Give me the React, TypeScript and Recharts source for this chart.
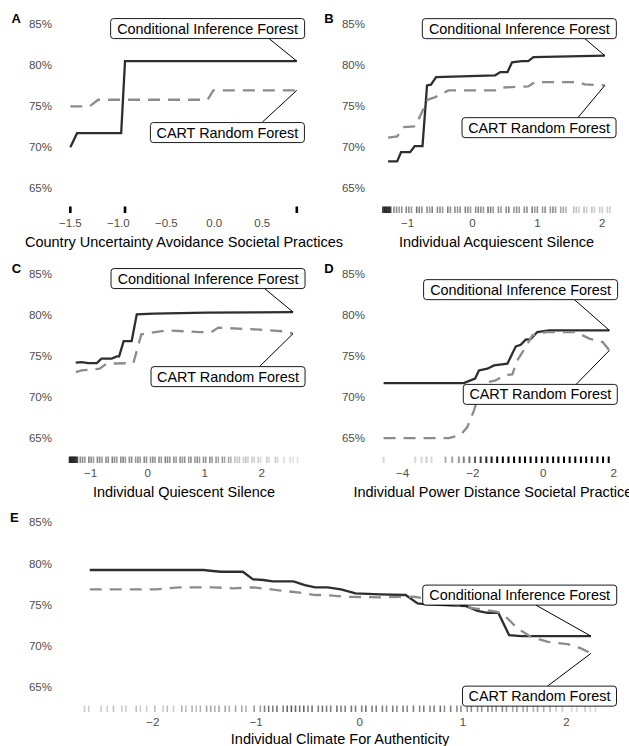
import React from 'react';
import { ComposedChart, Line, XAxis, YAxis, Scatter, ReferenceDot } from 'recharts';

const FONT = '"Liberation Sans", Arial, Helvetica, sans-serif';

type Pt = [number, number];

// ---------- shared y axis ----------
const yTicks = [0.65, 0.7, 0.75, 0.8, 0.85];
const yDomain: [number, number] = [0.62, 0.86];

// ---------- Panel A ----------
const ticksA = [-1.5, -1, -0.5, 0, 0.5];
const cifA: Pt[] = [[-1.5, 0.7002], [-1.43, 0.7173], [-0.97, 0.7173], [-0.93, 0.8051], [0.86, 0.8051]];
const cartA: Pt[] = [[-1.5, 0.7499], [-1.3, 0.7499], [-1.21, 0.758], [-0.07, 0.758], [-0.01, 0.7694], [0.86, 0.7694]];
const rugA: Pt[] = [[-1.5, 1], [-0.93, 1], [0.86, 1]];

// ---------- Panel B ----------
const ticksB = [-1, 0, 1, 2];
const cifB: Pt[] = [[-1.3, 0.6828], [-1.16, 0.6828], [-1.1, 0.6941], [-0.96, 0.6941], [-0.89, 0.7015], [-0.77, 0.7015], [-0.7, 0.7755], [-0.64, 0.7763], [-0.56, 0.7856], [0.35, 0.7877], [0.43, 0.7917], [0.54, 0.7917], [0.61, 0.8035], [0.76, 0.8051], [0.86, 0.8051], [0.94, 0.81], [2.04, 0.8117]];
const cartB: Pt[] = [[-1.3, 0.7117], [-1.16, 0.7133], [-1.06, 0.7246], [-0.88, 0.7255], [-0.69, 0.758], [-0.57, 0.7612], [-0.37, 0.7694], [0.35, 0.7694], [0.43, 0.7727], [0.86, 0.7743], [0.96, 0.7795], [1.63, 0.7795], [1.73, 0.7767], [2.04, 0.7755]];
const rugB: Pt[] = [
  [-1.38, 0.8], [-1.36, 0.8], [-1.34, 0.8], [-1.32, 0.8], [-1.3, 0.8], [-1.28, 0.8], [-1.26, 0.7],
  [-1.21, 0.45], [-1.17, 0.45], [-1.13, 0.4], [-1.09, 0.45], [-1.02, 0.5], [-0.98, 0.45], [-0.94, 0.4], [-0.86, 0.55], [-0.82, 0.5], [-0.78, 0.45],
  [-0.7, 0.45], [-0.66, 0.4], [-0.62, 0.5], [-0.54, 0.45], [-0.5, 0.45], [-0.46, 0.4], [-0.38, 0.5], [-0.34, 0.45], [-0.27, 0.45], [-0.23, 0.4],
  [-0.19, 0.45], [-0.11, 0.5], [-0.07, 0.45], [-0.03, 0.4], [0.05, 0.45], [0.09, 0.5], [0.13, 0.45], [0.17, 0.4], [0.24, 0.55], [0.28, 0.5],
  [0.32, 0.4], [0.4, 0.45], [0.44, 0.4], [0.52, 0.45], [0.56, 0.5], [0.64, 0.4], [0.68, 0.45], [0.72, 0.4], [0.8, 0.45], [0.84, 0.45],
  [0.92, 0.5], [0.96, 0.4], [1.0, 0.45], [1.08, 0.4], [1.12, 0.45], [1.2, 0.4], [1.24, 0.45], [1.28, 0.4], [1.36, 0.35], [1.4, 0.35], [1.44, 0.3],
  [1.56, 0.25], [1.6, 0.25], [1.64, 0.2], [1.72, 0.25], [1.76, 0.2], [1.84, 0.25], [1.88, 0.2], [1.96, 0.2], [2.0, 0.2], [2.08, 0.2], [2.12, 0.2],
];

// ---------- Panel C ----------
const ticksC = [-1, 0, 1, 2];
const cifC: Pt[] = [[-1.26, 0.7422], [-1.16, 0.7429], [-1.04, 0.7417], [-0.89, 0.7417], [-0.81, 0.7471], [-0.63, 0.7471], [-0.54, 0.7499], [-0.5, 0.7499], [-0.42, 0.7685], [-0.28, 0.7685], [-0.19, 0.8011], [0.1, 0.802], [1.04, 0.8032], [2.55, 0.8039]];
const cartC: Pt[] = [[-1.26, 0.7307], [-1.16, 0.7328], [-0.84, 0.7349], [-0.72, 0.741], [-0.25, 0.7417], [-0.11, 0.7767], [0.33, 0.7816], [0.92, 0.7795], [1.12, 0.7795], [1.24, 0.7849], [1.97, 0.7824], [2.38, 0.7804], [2.55, 0.7776]];
const rugC: Pt[] = [
  [-1.37, 0.8], [-1.35, 0.8], [-1.33, 0.8], [-1.31, 0.8], [-1.29, 0.8], [-1.27, 0.75], [-1.25, 0.7], [-1.23, 0.65],
  [-1.18, 0.45], [-1.14, 0.45], [-1.1, 0.4], [-1.03, 0.5], [-0.99, 0.45], [-0.95, 0.4], [-0.88, 0.5], [-0.84, 0.45], [-0.8, 0.4], [-0.73, 0.45],
  [-0.69, 0.45], [-0.62, 0.5], [-0.58, 0.45], [-0.54, 0.4], [-0.47, 0.45], [-0.43, 0.5], [-0.39, 0.4], [-0.32, 0.45], [-0.28, 0.45], [-0.21, 0.4],
  [-0.17, 0.45], [-0.13, 0.4], [-0.06, 0.45], [-0.02, 0.45], [0.05, 0.4], [0.09, 0.45], [0.13, 0.4], [0.2, 0.45], [0.24, 0.4], [0.31, 0.5],
  [0.35, 0.45], [0.39, 0.4], [0.46, 0.45], [0.5, 0.4], [0.57, 0.45], [0.61, 0.4], [0.65, 0.45], [0.72, 0.4], [0.76, 0.45], [0.83, 0.4],
  [0.87, 0.45], [0.91, 0.4], [0.98, 0.45], [1.02, 0.4], [1.09, 0.45], [1.13, 0.4], [1.2, 0.4], [1.24, 0.35], [1.31, 0.4], [1.35, 0.35], [1.42, 0.35], [1.46, 0.3],
  [1.53, 0.25], [1.57, 0.2], [1.61, 0.25], [1.68, 0.2], [1.72, 0.25], [1.76, 0.2], [1.83, 0.2], [1.87, 0.2], [1.94, 0.2], [1.98, 0.15], [2.09, 0.2],
  [2.13, 0.15], [2.24, 0.2], [2.28, 0.15], [2.39, 0.15], [2.5, 0.15], [2.55, 0.12], [2.63, 0.12],
];

// ---------- Panel D ----------
const ticksD = [-4, -2, 0, 2];
const cifD: Pt[] = [[-4.54, 0.7173], [-2.26, 0.7173], [-2.07, 0.7206], [-1.94, 0.7227], [-1.83, 0.7328], [-1.59, 0.7349], [-1.4, 0.7389], [-1.02, 0.741], [-0.78, 0.7621], [-0.64, 0.7641], [-0.5, 0.7702], [-0.36, 0.771], [-0.17, 0.7795], [0.17, 0.7816], [1.88, 0.7816]];
const cartD: Pt[] = [[-4.54, 0.6502], [-2.69, 0.6502], [-2.35, 0.6544], [-2.16, 0.6637], [-1.97, 0.684], [-1.83, 0.7044], [-1.69, 0.7173], [-1.35, 0.7206], [-1.12, 0.7267], [-0.88, 0.7279], [-0.74, 0.745], [-0.5, 0.7612], [-0.31, 0.7755], [0.07, 0.7795], [0.93, 0.7795], [1.31, 0.7715], [1.69, 0.7673], [1.88, 0.7572]];
const rugD: Pt[] = [
  [-4.54, 0.15], [-3.64, 0.15], [-3.46, 0.15], [-3.32, 0.2], [-3.18, 0.15], [-2.78, 0.3], [-2.59, 0.35], [-2.4, 0.4], [-2.26, 0.5],
  [-2.1, 0.55], [-1.94, 0.65], [-1.78, 0.75], [-1.62, 0.85], [-1.47, 0.9], [-1.31, 1], [-1.15, 1], [-0.99, 1], [-0.83, 1], [-0.67, 1],
  [-0.52, 1], [-0.36, 1], [-0.2, 1], [-0.04, 1], [0.12, 1], [0.28, 1], [0.43, 1], [0.59, 1], [0.75, 1], [0.91, 1], [1.07, 1],
  [1.22, 1], [1.38, 1], [1.54, 1], [1.7, 1], [1.86, 1],
];

// ---------- Panel E ----------
const ticksE = [-2, -1, 0, 1, 2];
const cifE: Pt[] = [[-2.61, 0.7921], [-1.51, 0.7921], [-1.42, 0.7909], [-1.34, 0.79], [-1.13, 0.79], [-1.03, 0.7808], [-0.93, 0.78], [-0.84, 0.7784], [-0.64, 0.7784], [-0.53, 0.7739], [-0.43, 0.7711], [-0.31, 0.7711], [-0.18, 0.7687], [-0.04, 0.7638], [0.2, 0.7626], [0.445, 0.7618], [0.56, 0.7517], [0.62, 0.7508], [1.03, 0.7484], [1.14, 0.7427], [1.235, 0.7403], [1.34, 0.7403], [1.445, 0.7132], [1.56, 0.712], [2.236, 0.712]];
const cartE: Pt[] = [[-2.61, 0.7687], [-1.965, 0.7687], [-1.74, 0.7711], [-1.42, 0.7711], [-1.22, 0.7699], [-1.03, 0.7711], [-0.8, 0.7678], [-0.58, 0.7646], [-0.43, 0.7618], [-0.35, 0.7618], [-0.12, 0.7597], [0.2, 0.759], [0.525, 0.7597], [0.75, 0.755], [0.98, 0.7484], [1.11, 0.7456], [1.33, 0.7415], [1.43, 0.7335], [1.525, 0.7214], [1.655, 0.7112], [1.82, 0.7051], [2.01, 0.7023], [2.14, 0.6971], [2.236, 0.691]];
const rugE: Pt[] = [
  [-2.66, 0.2], [-2.62, 0.2], [-2.5, 0.2], [-2.44, 0.2], [-2.38, 0.25], [-2.3, 0.2], [-2.26, 0.2], [-2.16, 0.25], [-2.12, 0.2], [-2.06, 0.2],
  [-1.98, 0.25], [-1.9, 0.2], [-1.86, 0.25], [-1.8, 0.2], [-1.72, 0.3], [-1.68, 0.25], [-1.62, 0.3], [-1.58, 0.25], [-1.54, 0.3],
  [-1.48, 0.35], [-1.44, 0.35], [-1.4, 0.3], [-1.36, 0.35], [-1.3, 0.35], [-1.26, 0.3], [-1.2, 0.35], [-1.14, 0.35], [-1.1, 0.3], [-1.02, 0.4], [-0.96, 0.4],
  [-0.92, 0.5], [-0.88, 0.55], [-0.84, 0.5], [-0.8, 0.55], [-0.74, 0.5], [-0.7, 0.6], [-0.66, 0.65], [-0.62, 0.6], [-0.58, 0.55], [-0.54, 0.6],
  [-0.5, 0.5], [-0.46, 0.55], [-0.4, 0.5], [-0.36, 0.55], [-0.32, 0.5], [-0.28, 0.5], [-0.22, 0.55], [-0.18, 0.5], [-0.14, 0.5], [-0.08, 0.55],
  [-0.04, 0.5], [0.02, 0.5], [0.06, 0.55], [0.12, 0.5], [0.16, 0.5], [0.22, 0.5], [0.26, 0.45], [0.32, 0.5], [0.36, 0.45], [0.42, 0.5],
  [0.46, 0.45], [0.52, 0.5], [0.58, 0.45], [0.62, 0.5], [0.68, 0.45], [0.72, 0.5], [0.78, 0.55], [0.82, 0.45], [0.88, 0.5], [0.94, 0.45], [0.98, 0.45],
  [1.04, 0.4], [1.08, 0.45], [1.14, 0.4], [1.18, 0.4], [1.24, 0.45], [1.28, 0.4], [1.32, 0.4], [1.38, 0.45], [1.42, 0.4], [1.48, 0.35],
  [1.52, 0.4], [1.58, 0.35], [1.62, 0.35], [1.68, 0.3], [1.72, 0.35], [1.78, 0.3], [1.84, 0.3],
  [1.9, 0.2], [1.96, 0.2], [2.05, 0.15], [2.1, 0.15], [2.18, 0.2], [2.23, 0.15], [2.28, 0.15],
];

// ---------- labels ----------
const cifLabel = 'Conditional Inference Forest';
const cartLabel = 'CART Random Forest';

type LabelPos = { bdx: number; bdy: number; sdx: number; sdy: number };

type PanelCfg = {
  letter: string;
  top: number;
  height: number;
  ml: number;
  yw: number;
  mr: number;
  xh: number;
  titleOffset: number;
  domain: [number, number];
  ticks: number[];
  dec: number;
  title: string;
  cif: Pt[];
  cart: Pt[];
  rug: Pt[];
  rugW: number;
  cifPos: LabelPos;
  cartPos: LabelPos;
};

const panels: PanelCfg[] = [
  {
    letter: 'A', top: 0, height: 250, ml: 0, yw: 59, mr: 320, xh: 37, titleOffset: 3,
    domain: [-1.618, 0.987], ticks: ticksA, dec: 1,
    title: 'Country Uncertainty Avoidance Societal Practices',
    cif: cifA, cart: cartA, rug: rugA, rugW: 2.6,
    cifPos: { bdx: -89.2, bdy: -32.5, sdx: -27.7, sdy: -22.4 },
    cartPos: { bdx: -69.4, bdy: 42.2, sdx: -34.4, sdy: 31.7 },
  },
  {
    letter: 'B', top: 0, height: 250, ml: 314, yw: 58, mr: 8, xh: 37, titleOffset: 3,
    domain: [-1.548, 2.289], ticks: ticksB, dec: 0,
    title: 'Individual Acquiescent Silence',
    cif: cifB, cart: cartB, rug: rugB, rugW: 1.6,
    cifPos: { bdx: -85.5, bdy: -27, sdx: -20, sdy: -17 },
    cartPos: { bdx: -65.8, bdy: 42.3, sdx: -26.7, sdy: 32 },
  },
  {
    letter: 'C', top: 250, height: 250, ml: 0, yw: 59, mr: 320, xh: 37, titleOffset: 3,
    domain: [-1.554, 2.83], ticks: ticksC, dec: 0,
    title: 'Individual Quiescent Silence',
    cif: cifC, cart: cartC, rug: rugC, rugW: 1.6,
    cifPos: { bdx: -85, bdy: -33.5, sdx: -28.3, sdy: -23.4 },
    cartPos: { bdx: -65, bdy: 43, sdx: -33.3, sdy: 32.7 },
  },
  {
    letter: 'D', top: 250, height: 250, ml: 314, yw: 58, mr: 8, xh: 37, titleOffset: 3,
    domain: [-4.87, 2.21], ticks: ticksD, dec: 0,
    title: 'Individual Power Distance Societal Practices',
    cif: cifD, cart: cartD, rug: rugD, rugW: 2,
    cifPos: { bdx: -88.8, bdy: -40.7, sdx: -35, sdy: -30.7 },
    cartPos: { bdx: -69.1, bdy: 44, sdx: -33.3, sdy: 34 },
  },
  {
    letter: 'E', top: 498, height: 248, ml: 0, yw: 59, mr: 8, xh: 34, titleOffset: 2.5,
    domain: [-2.907, 2.527], ticks: ticksE, dec: 0,
    title: 'Individual Climate For Authenticity',
    cif: cifE, cart: cartE, rug: rugE, rugW: 1.6,
    cifPos: { bdx: -71.2, bdy: -41, sdx: -55, sdy: -31 },
    cartPos: { bdx: -51.4, bdy: 42.7, sdx: -43.4, sdy: 32.7 },
  },
];

const letterPos: Record<string, [number, number]> = {
  A: [11.5, 22.7],
  B: [324.3, 22.7],
  C: [11.7, 272.7],
  D: [324.3, 272.7],
  E: [10, 521.7],
};

const toObj = (arr: Pt[]) => arr.map(([x, y]) => ({ x, y }));
const pct = (v: number) => `${Math.round(v * 100)}%`;
const fmtX = (dec: number) => (v: number) => {
  const s = Math.abs(v).toFixed(dec);
  return v < 0 ? `\u2212${s}` : s;
};

const makeRug = (w: number) => (props: any) => {
  const { cx, cy, payload } = props;
  if (cx == null || cy == null) return <g />;
  return (
    <line x1={cx} x2={cx} y1={cy} y2={cy - 6.5} stroke="#000" strokeOpacity={payload.a} strokeWidth={w} />
  );
};

const makeLabel = (text: string, w: number, pos: LabelPos) => (props: any) => {
  const { cx, cy } = props;
  if (cx == null || cy == null) return <g />;
  const h = 20;
  const bx = cx + pos.bdx;
  const by = cy + pos.bdy;
  return (
    <g>
      <line x1={cx + pos.sdx} y1={cy + pos.sdy} x2={cx} y2={cy} stroke="#000" strokeWidth={1} />
      <rect x={bx - w / 2} y={by - h / 2} width={w} height={h} rx={3} ry={3} fill="#fff" stroke="#000" strokeWidth={0.9} />
      <text x={bx} y={by + 5} textAnchor="middle" fontSize={14.4} fontFamily={FONT} fill="#000">
        {text}
      </text>
    </g>
  );
};

function Panel({ p }: { p: PanelCfg }) {
  const cif = toObj(p.cif);
  const cart = toObj(p.cart);
  const rug = p.rug.map(([x, a]) => ({ x, y: yDomain[0], a }));
  const cifLast = cif[cif.length - 1];
  const cartLast = cart[cart.length - 1];
  return (
    <div style={{ position: 'absolute', left: 0, top: p.top, width: 629, height: p.height }}>
      <ComposedChart width={629} height={p.height} margin={{ top: 16, right: p.mr, bottom: 0, left: p.ml }}>
        <XAxis
          type="number"
          dataKey="x"
          domain={p.domain}
          ticks={p.ticks}
          tickFormatter={fmtX(p.dec)}
          allowDataOverflow
          axisLine={false}
          tickLine={false}
          tickSize={0}
          tickMargin={6}
          interval={0}
          height={p.xh}
          tick={{ fill: '#4d4d4d', fontSize: 11.5, fontFamily: FONT }}
          label={{ value: p.title, position: 'insideBottom', offset: p.titleOffset, fill: '#000', fontSize: 14.5, fontFamily: FONT }}
        />
        <YAxis
          type="number"
          dataKey="y"
          domain={yDomain}
          ticks={yTicks}
          tickFormatter={pct}
          allowDataOverflow
          axisLine={false}
          tickLine={false}
          tickSize={0}
          tickMargin={7}
          interval={0}
          width={p.yw}
          tick={{ fill: '#4d4d4d', fontSize: 11.5, fontFamily: FONT }}
        />
        <Scatter data={rug} dataKey="y" shape={makeRug(p.rugW)} isAnimationActive={false} />
        <Line data={cif} dataKey="y" type="linear" stroke="#2e2e2e" strokeWidth={2.3} dot={false} activeDot={false} isAnimationActive={false} />
        <Line data={cart} dataKey="y" type="linear" stroke="#8c8c8c" strokeWidth={2.3} strokeDasharray="12 8" dot={false} activeDot={false} isAnimationActive={false} />
        <ReferenceDot x={cifLast.x} y={cifLast.y} r={0} shape={makeLabel(cifLabel, 194, p.cifPos)} />
        <ReferenceDot x={cartLast.x} y={cartLast.y} r={0} shape={makeLabel(cartLabel, 154, p.cartPos)} />
      </ComposedChart>
    </div>
  );
}

export default function App() {
  return (
    <div style={{ position: 'absolute', left: 0, top: 0, width: 629, height: 746, background: '#fff', overflow: 'hidden' }}>
      {panels.map((p) => (
        <Panel key={p.letter} p={p} />
      ))}
      <svg width={629} height={746} style={{ position: 'absolute', left: 0, top: 0, pointerEvents: 'none' }}>
        {panels.map((p) => (
          <text key={p.letter} x={letterPos[p.letter][0]} y={letterPos[p.letter][1]} fontSize={13} fontWeight="bold" fontFamily={FONT} fill="#000">
            {p.letter}
          </text>
        ))}
      </svg>
    </div>
  );
}
